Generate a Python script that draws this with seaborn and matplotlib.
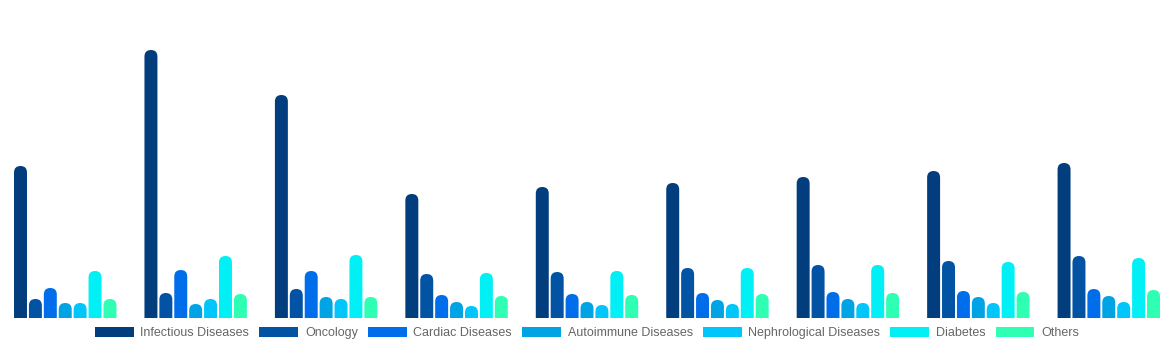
import matplotlib
matplotlib.use("Agg")
import matplotlib.pyplot as plt
import seaborn as sns
import pandas as pd
from matplotlib.patches import FancyBboxPatch

# groups along the x axis (no labels shown in the chart)
groups = ["G1", "G2", "G3", "G4", "G5", "G6", "G7", "G8", "G9"]
series = ["Infectious Diseases", "Oncology", "Cardiac Diseases", "Autoimmune Diseases",
          "Nephrological Diseases", "Diabetes", "Others"]
colors = ["#023E7D", "#0353A4", "#006EEA", "#00A3E3", "#00C6FB", "#00F0F6", "#2EFFB2"]

infectious = [152, 268, 223, 124, 131, 135, 141, 147, 155]
oncology = [19, 25, 29, 44, 46, 50, 53, 57, 62]
cardiac = [30, 48, 47, 23, 24, 25, 26, 27, 29]
autoimmune = [15, 14, 21, 16, 16, 18, 19, 21, 22]
nephro = [15, 19, 19, 12, 13, 14, 15, 15, 16]
diabetes = [47, 62, 63, 45, 47, 50, 53, 56, 60]
others = [19, 24, 21, 22, 23, 24, 25, 26, 28]

values = [infectious, oncology, cardiac, autoimmune, nephro, diabetes, others]
rows = []
for name, vals in zip(series, values):
    for g, v in zip(groups, vals):
        rows.append({"group": g, "series": name, "value": v})
df = pd.DataFrame(rows)

sns.set_theme(style="white")
plt.rcParams['font.family'] = ['Liberation Sans', 'DejaVu Sans']

fig = plt.figure(figsize=(11.74, 3.5), dpi=100)
ax = fig.add_axes([0, 32 / 350, 1, 318 / 350])

sns.barplot(data=df, x="group", y="value", hue="series", hue_order=series,
            palette=colors, width=0.8, gap=0.13, saturation=1, ax=ax, legend=False)
ax.set_xlim(-0.5, len(groups) - 0.5)
ax.set_ylim(0, 318)

# swap each bar for one with a rounded top (bottom round part hidden below the axis)
px_per_x = ax.bbox.width / len(groups)
px_per_y = ax.bbox.height / 318
aspect = px_per_x / px_per_y
for p in list(ax.patches):
    x, w, h = p.get_x(), p.get_width(), p.get_height()
    if h <= 0:
        continue
    r = w / 2
    ry = r * aspect
    rb = FancyBboxPatch((x, -ry), w, h + ry,
                        boxstyle=f"round,pad=0,rounding_size={r}",
                        mutation_aspect=aspect,
                        facecolor=p.get_facecolor(), edgecolor="none", linewidth=0)
    p.remove()
    ax.add_patch(rb)

ax.set_axis_off()

handles = [plt.Rectangle((0, 0), 1, 1, facecolor=c, edgecolor="none") for c in colors]
fig.legend(handles, series, loc="center", bbox_to_anchor=(0.5, 17 / 350), ncol=7,
           frameon=False, fontsize=9, labelcolor="#666666", handlelength=3.1,
           handleheight=0.95, handletextpad=0.55, columnspacing=0.8)

fig.savefig("out.png", dpi=100)
